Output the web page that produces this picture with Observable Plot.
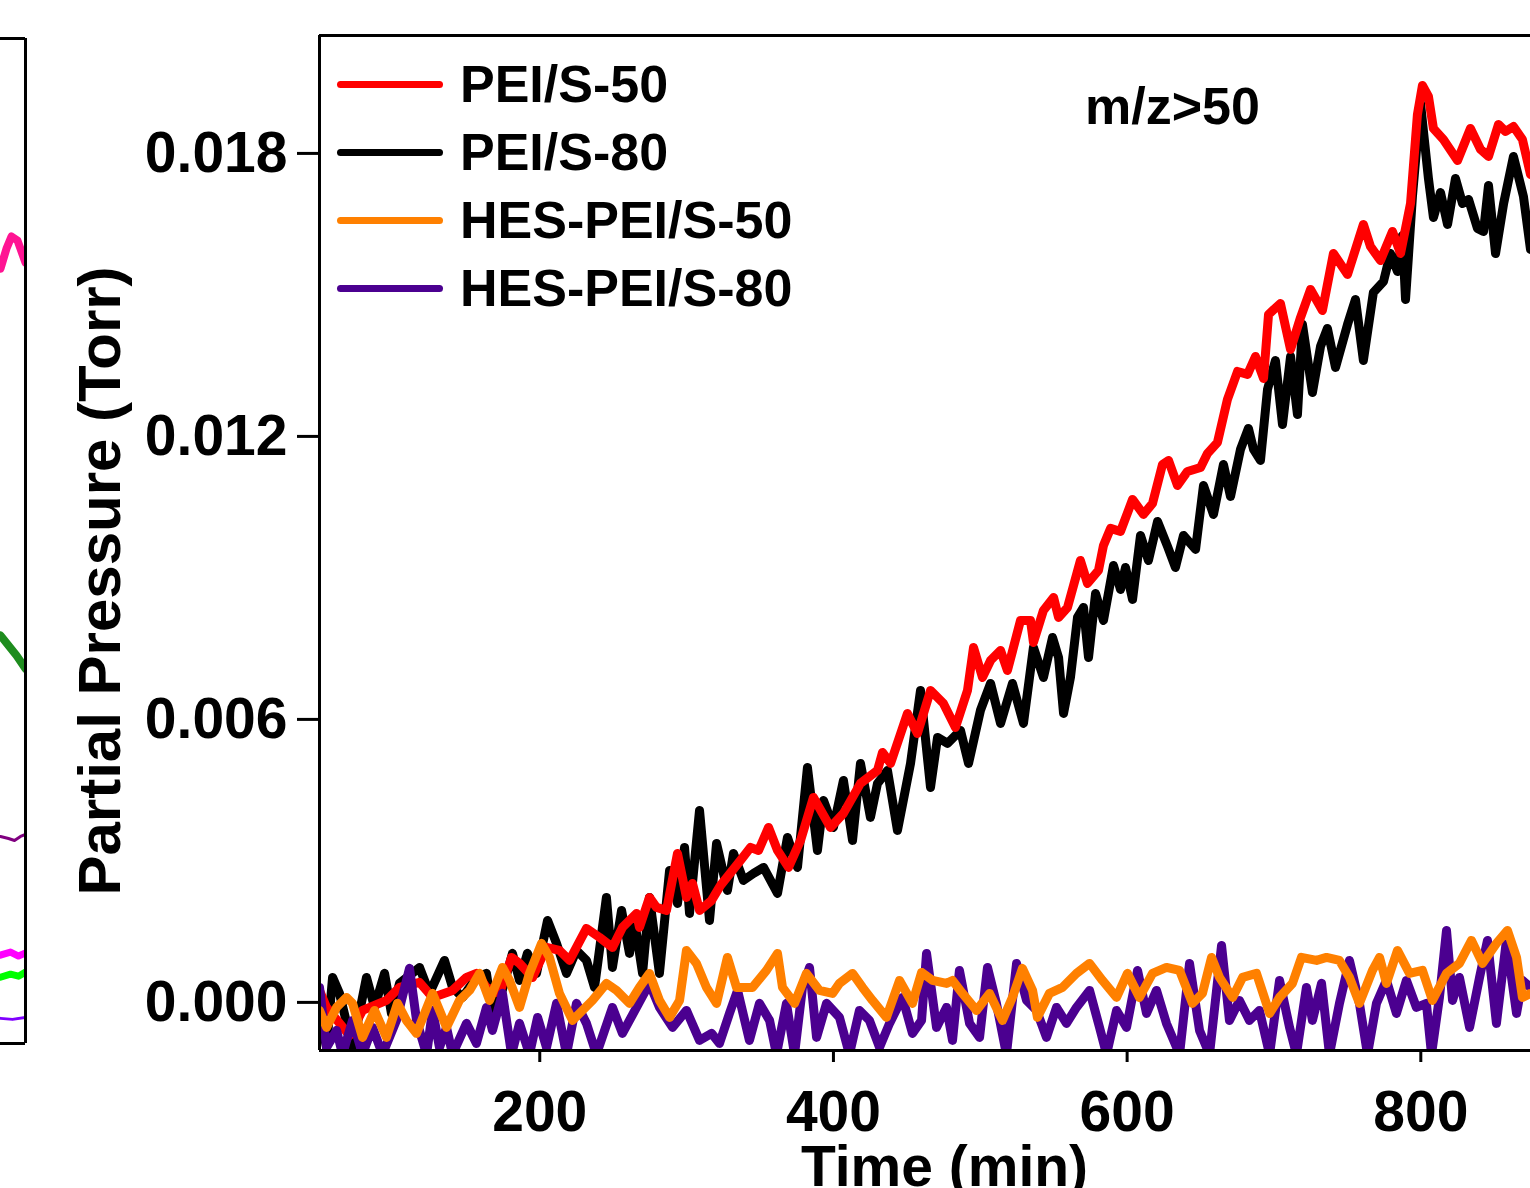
<!DOCTYPE html>
<html>
<head>
<meta charset="utf-8">
<script src="https://cdn.jsdelivr.net/npm/d3@7"></script>
<script src="https://cdn.jsdelivr.net/npm/@observablehq/plot@0.6"></script>
<style>
  html, body { margin: 0; padding: 0; background: #ffffff; overflow: hidden; }
  #wrap { position: relative; width: 1530px; height: 1188px; font-family: "Liberation Sans", Arial, sans-serif; font-weight: bold; color: #000; }
  #wrap svg { position: absolute; left: 0; top: 0; }
  .legend { position: absolute; left: 337px; top: 50px; }
  .row { display: flex; align-items: center; height: 68px; }
  .sw { width: 106px; height: 7px; border-radius: 3.5px; margin-right: 17px; }
  .lab { font-size: 52px; line-height: 1; white-space: nowrap; }
  .note { position: absolute; left: 1085px; top: 80px; font-size: 52px; line-height: 1; white-space: nowrap; }
</style>
</head>
<body>
<div id="wrap"></div>
<script>
// ---------- data (time in min, partial pressure in Torr) ----------
const seriesNames  = ["PEI/S-50", "PEI/S-80", "HES-PEI/S-50", "HES-PEI/S-80"];
const seriesColors = ["#ff0000", "#000000", "#ff8000", "#4b0090"];
const xTicks = [200, 400, 600, 800];
const yTicks = [0, 0.006, 0.012, 0.018];
const xDomain = [50, 874.7];
const yDomain = [-0.00102, 0.0205];
const annotation = "m/z>50";
const xLabel = "Time (min)";
const yLabel = "Partial Pressure (Torr)";

const pei50 = [[50.0,0.000254],[54.8,-0.000106],[70.4,-0.0007],[79.3,-0.00017],[95.6,0.000042],[104.5,0.000318],[118.1,0.000424],[127.0,0.000106],[140.6,0.000254],[150.1,0.00053],[156.9,0.000615],[163.7,0.000318],[172.6,0.000191],[180.8,0.000954],[186.2,0.000827],[195.1,0.00053],[204.6,0.001166],[213.4,0.001102],[220.3,0.00089],[231.8,0.001569],[240.7,0.001378],[249.5,0.001166],[256.3,0.00159],[265.9,0.001887],[267.9,0.00159],[274.7,0.002226],[279.5,0.002014],[286.3,0.00195],[293.8,0.003159],[299.9,0.002226],[304.0,0.002523],[308.8,0.00195],[317.0,0.002162],[323.1,0.00248],[336.7,0.00301],[343.5,0.003286],[349.0,0.003222],[355.8,0.00371],[361.9,0.003222],[369.4,0.002862],[377.6,0.003434],[386.4,0.004346],[398.0,0.00371],[406.8,0.004007],[418.4,0.004643],[430.0,0.004918],[433.4,0.0053],[438.9,0.005067],[450.4,0.006127],[457.2,0.005703],[466.1,0.006614],[474.9,0.006339],[483.1,0.00583],[491.3,0.006614],[495.4,0.007526],[501.5,0.00689],[507.0,0.00725],[513.8,0.007462],[518.5,0.007038],[527.4,0.008098],[534.2,0.008098],[536.2,0.007632],[543.0,0.00831],[549.9,0.008586],[553.3,0.008162],[559.4,0.008374],[568.2,0.00937],[573.0,0.008883],[580.5,0.009158],[583.9,0.009688],[588.7,0.010049],[595.5,0.009985],[603.7,0.010664],[611.1,0.010346],[617.3,0.010579],[624.1,0.011406],[628.2,0.01149],[634.3,0.01096],[641.1,0.011257],[650.0,0.011342],[654.7,0.011639],[661.5,0.011872],[668.3,0.012784],[675.2,0.013377],[682.0,0.013314],[687.4,0.013695],[692.9,0.013229],[696.3,0.014586],[704.4,0.014819],[711.3,0.013844],[718.1,0.014522],[724.9,0.015116],[733.0,0.01467],[740.5,0.015879],[750.1,0.015434],[760.9,0.016494],[765.7,0.016027],[772.5,0.01573],[780.7,0.016345],[786.2,0.015879],[793.0,0.016939],[797.7,0.018826],[801.1,0.01944],[805.2,0.019207],[808.6,0.018529],[815.4,0.018296],[825.0,0.01785],[833.8,0.018529],[840.7,0.018084],[846.1,0.017935],[852.9,0.018614],[857.7,0.018465],[863.1,0.018571],[869.2,0.018296],[874.7,0.017554]];

const pei80 = [[50.0,-0.000233],[54.8,-0.000954],[58.9,0.00053],[63.6,0.000191],[72.5,-0.000954],[82.0,0.00053],[87.5,-0.000106],[94.3,0.000615],[99.0,-0.000233],[104.5,0.000403],[118.1,0.000742],[124.9,0.000191],[135.1,0.00089],[140.6,0.000318],[147.4,0.000106],[156.9,0.00053],[163.7,0.000615],[167.8,-0.000233],[173.9,0.000191],[181.4,0.001039],[186.2,0.000466],[191.6,0.001039],[197.8,0.000615],[205.3,0.001738],[211.4,0.001251],[218.2,0.000615],[225.0,0.001102],[231.8,0.00089],[237.3,0.000318],[245.4,0.002226],[249.5,0.000742],[255.7,0.00195],[261.1,0.001039],[264.5,0.001738],[270.0,0.000615],[274.7,0.002226],[281.5,0.000615],[288.4,0.002798],[293.8,0.002099],[298.6,0.003286],[302.0,0.001887],[308.8,0.00407],[315.6,0.001738],[320.4,0.003371],[327.8,0.002374],[331.9,0.003159],[338.7,0.002586],[345.6,0.002735],[352.4,0.002862],[361.9,0.002311],[368.7,0.003498],[375.5,0.002862],[382.3,0.004982],[389.1,0.003222],[393.2,0.004282],[400.0,0.00371],[406.8,0.004706],[413.0,0.003434],[418.4,0.005067],[425.2,0.003922],[430.0,0.004643],[436.8,0.004918],[443.6,0.003646],[452.5,0.005067],[459.3,0.006614],[466.1,0.004558],[470.9,0.005618],[477.7,0.005491],[486.5,0.005766],[492.0,0.005067],[500.1,0.00619],[507.0,0.006763],[513.8,0.005915],[521.9,0.006763],[529.4,0.005915],[536.2,0.007526],[543.0,0.00689],[549.2,0.007738],[553.3,0.007314],[556.7,0.006127],[561.4,0.00689],[566.2,0.008162],[570.3,0.008374],[573.7,0.007314],[578.5,0.008671],[583.9,0.008098],[590.7,0.009264],[595.5,0.008756],[598.9,0.009222],[603.7,0.008544],[609.1,0.0099],[614.5,0.00937],[620.7,0.010197],[627.5,0.009667],[632.9,0.009222],[638.4,0.0099],[646.6,0.009604],[652.0,0.01096],[658.8,0.010346],[665.6,0.011406],[670.4,0.010727],[677.2,0.011724],[682.6,0.012169],[686.1,0.011724],[690.8,0.01149],[695.6,0.012996],[701.0,0.01361],[705.8,0.012254],[711.3,0.013695],[716.0,0.012466],[719.4,0.014374],[726.2,0.012932],[731.7,0.013907],[736.4,0.014289],[741.9,0.013462],[750.1,0.014374],[755.5,0.014904],[760.9,0.01361],[767.7,0.015052],[774.6,0.015285],[779.3,0.015879],[784.1,0.015497],[787.5,0.01626],[789.6,0.014904],[794.3,0.017087],[799.8,0.019059],[805.2,0.017469],[808.6,0.016642],[813.4,0.017172],[818.2,0.016494],[823.6,0.017469],[828.4,0.016939],[832.5,0.017024],[838.6,0.016409],[842.7,0.016345],[846.1,0.01732],[850.9,0.015879],[856.4,0.016939],[863.1,0.017935],[869.9,0.017087],[874.7,0.015964]];

const hes50 = [[50.0,-0.00017],[54.8,-0.00053],[61.6,-0.000106],[68.4,0.000106],[72.5,-0.000021],[79.3,-0.000742],[87.5,-0.00017],[95.6,-0.000742],[103.1,-0.000021],[109.2,-0.000382],[116.1,-0.000657],[127.0,0.000191],[136.5,-0.00053],[145.3,0.000042],[152.2,0.000254],[159.0,0.000615],[165.8,0.000042],[174.6,0.000742],[179.4,0.000466],[186.2,-0.000106],[193.0,0.000615],[201.2,0.001251],[206.6,0.000954],[213.4,0.000191],[222.3,-0.000382],[229.1,-0.00017],[235.9,0.000042],[245.4,0.000403],[252.3,0.000254],[261.1,-0.000021],[267.9,0.000318],[274.7,0.000615],[281.5,0.000042],[288.4,-0.000318],[295.2,0.000042],[299.9,0.001102],[306.7,0.000827],[313.5,0.000318],[320.4,-0.000021],[327.8,0.000954],[334.0,0.000318],[344.9,0.000318],[354.4,0.000678],[361.9,0.001039],[365.3,0.000318],[373.5,-0.000021],[381.6,0.000615],[390.5,0.000254],[399.4,0.000191],[404.1,0.000403],[413.0,0.000615],[419.8,0.000318],[426.6,0.000042],[436.1,-0.000318],[445.0,0.000466],[453.8,-0.000021],[460.0,0.000636],[467.5,0.000466],[477.0,0.000403],[481.1,0.000466],[487.9,0.000191],[497.4,-0.00017],[506.3,0.000191],[515.1,-0.000382],[521.9,0.000106],[528.7,0.000721],[535.6,0.000254],[538.9,-0.000318],[547.1,0.000191],[556.0,0.000318],[565.5,0.000615],[574.4,0.000827],[583.2,0.000466],[592.8,0.000106],[600.2,0.000615],[608.4,0.000106],[617.3,0.000615],[626.8,0.000742],[635.7,0.000678],[644.5,-0.000021],[651.3,0.000191],[657.5,0.000954],[662.9,0.00053],[671.8,0.000106],[678.6,0.00053],[688.1,0.000615],[697.0,-0.000233],[703.8,0.000106],[712.6,0.000403],[718.7,0.000954],[729.0,0.00089],[735.8,0.000954],[744.6,0.00089],[751.4,0.00053],[758.2,-0.000021],[767.1,0.000678],[771.9,0.000954],[776.6,0.000403],[784.1,0.001102],[792.3,0.000615],[801.1,0.000678],[807.9,0.000042],[817.5,0.000615],[826.3,0.000827],[834.5,0.001314],[842.0,0.000827],[851.5,0.001251],[859.0,0.001526],[865.2,0.000954],[869.2,0.000106],[874.7,0.000191]];

const hes80 = [[50.0,0.000318],[54.8,-0.000954],[61.6,-0.000594],[65.7,-0.0011],[72.5,-0.000382],[79.3,-0.0011],[86.1,-0.00053],[92.9,-0.0011],[102.4,-0.000382],[111.3,0.000721],[116.1,-0.000382],[122.9,-0.0011],[127.0,-0.00017],[131.7,-0.000954],[136.5,-0.00053],[140.6,-0.0011],[150.1,-0.000445],[156.9,-0.000869],[163.7,-0.000106],[167.8,-0.000594],[174.6,0.000191],[180.8,-0.0011],[186.2,-0.000445],[193.0,-0.0011],[198.5,-0.000318],[204.6,-0.000954],[211.4,-0.000021],[218.2,-0.0011],[225.0,-0.000021],[231.8,-0.000445],[238.6,-0.0011],[249.5,-0.000106],[256.3,-0.000657],[265.9,-0.000106],[274.7,0.000403],[281.5,-0.000106],[290.4,-0.00053],[299.9,-0.00017],[308.8,-0.000806],[317.0,-0.000657],[322.4,-0.000869],[329.2,-0.000233],[334.7,0.000254],[342.8,-0.000806],[349.6,-0.000021],[356.5,-0.000382],[361.2,-0.0011],[368.0,-0.000021],[373.5,-0.0011],[378.9,0.000318],[383.7,0.000742],[388.5,-0.000742],[395.3,-0.000021],[404.1,-0.000318],[410.9,-0.0011],[417.7,-0.00017],[424.5,-0.000382],[431.4,-0.000954],[438.2,-0.000445],[447.0,0.000106],[453.8,-0.000657],[460.0,-0.000382],[463.4,0.001039],[470.2,-0.00053],[477.0,-0.000106],[481.1,-0.000806],[485.8,0.000678],[492.7,-0.000445],[499.5,-0.000742],[504.9,0.000742],[511.0,-0.000021],[517.8,-0.0011],[524.7,0.000827],[531.5,0.000042],[538.3,-0.00017],[545.1,-0.000742],[551.9,-0.000106],[558.7,-0.000445],[565.5,-0.000106],[574.4,0.000254],[581.2,-0.00053],[586.0,-0.0011],[592.8,-0.00017],[599.6,-0.00053],[607.1,0.000678],[613.2,-0.000233],[620.0,0.000254],[626.8,-0.000445],[635.7,-0.0011],[642.5,0.000827],[649.3,-0.000594],[656.1,-0.0011],[664.3,0.001208],[669.7,-0.000382],[676.5,0.000042],[683.3,-0.000382],[690.1,-0.00017],[697.0,-0.0011],[703.8,0.000466],[710.6,-0.00053],[715.3,-0.0011],[722.1,0.000318],[726.2,-0.000382],[732.4,0.000403],[737.8,-0.0011],[744.6,-0.000021],[751.4,0.00089],[758.2,-0.000021],[763.7,-0.0011],[769.8,-0.000021],[776.6,0.000466],[783.4,-0.000233],[790.2,0.000466],[797.0,-0.000106],[803.8,-0.000021],[807.3,-0.0011],[812.7,0.000106],[817.5,0.001526],[821.6,0.000042],[826.3,0.00053],[833.2,-0.00053],[840.0,0.00053],[845.4,0.001314],[851.5,-0.000445],[858.3,0.001314],[865.2,-0.000233],[869.2,0.000466],[874.7,0.000318]];

// partial neighbouring panel at the far left (only its right edge is visible)
const fragNames  = ["f1", "f2", "f3", "f4", "f5", "f6"];
const fragColors = ["#ff1493", "#1e8c1e", "#800080", "#ff00ff", "#00ff00", "#8000ff"];
const fragWidths = [8, 8, 3, 7, 7, 3];
const fragPink    = [[0,77.1],[6,79.1],[11,80.3],[17,79.9],[25,77.7]];
const fragGreen   = [[0,40.6],[8,39.6],[16,38.6],[25,37.3]];
const fragPurple  = [[0,20.6],[8,20.4],[14,20.2],[20,20.6],[25,20.8]];
const fragMagenta = [[0,8.8],[10,9.1],[18,8.7],[25,9.0]];
const fragLime    = [[0,6.6],[10,6.9],[18,6.7],[25,7.1]];
const fragViolet  = [[0,2.5],[12,2.4],[25,2.6]];
const fragXDomain = [0, 25];
const fragYDomain = [0, 100];

// ---------- build ----------
const FONT = '"Liberation Sans", Arial, sans-serif';
const toRows = (pairs, name) => pairs.map(([t, p]) => ({time: t, pressure: p, series: name}));
// drawing order: PEI/S-80, PEI/S-50, HES-PEI/S-80, HES-PEI/S-50
const allRows = [
  ...toRows(pei80, seriesNames[1]),
  ...toRows(pei50, seriesNames[0]),
  ...toRows(hes80, seriesNames[3]),
  ...toRows(hes50, seriesNames[2])
];

const main = Plot.plot({
  width: 1530,
  height: 1188,
  marginLeft: 319,
  marginRight: 0,
  marginTop: 35,
  marginBottom: 138,
  style: {fontFamily: FONT, fontWeight: "bold", color: "#000", background: "transparent", overflow: "hidden"},
  x: {domain: xDomain},
  y: {domain: yDomain},
  color: {domain: seriesNames, range: seriesColors},
  marks: [
    Plot.line(allRows, {x: "time", y: "pressure", z: "series", stroke: "series", strokeWidth: 9, strokeLinejoin: "round", strokeLinecap: "round", clip: true}),
    Plot.ruleX([xDomain[0]], {stroke: "#000", strokeWidth: 3}),
    Plot.ruleY([yDomain[0], yDomain[1]], {stroke: "#000", strokeWidth: 3}),
    Plot.axisY({ticks: yTicks, tickFormat: d3.format(".3f"), tickSize: 22, tickPadding: 10, fontSize: 57, strokeWidth: 3, label: null}),
    Plot.axisX({ticks: xTicks, tickFormat: d3.format("d"), tickSize: 12, tickPadding: 28, fontSize: 57, strokeWidth: 3, label: null}),
    Plot.text([xLabel], {text: d => d, frameAnchor: "bottom", textAnchor: "middle", dx: 19.5, dy: 135, lineAnchor: "bottom", fontSize: 57, fontWeight: "bold"}),
    Plot.text([yLabel], {text: d => d, frameAnchor: "left", textAnchor: "middle", lineAnchor: "middle", rotate: -90, dx: -219, dy: 38, fontSize: 60, fontWeight: "bold"})
  ]
});

const fragRows = [
  ...toRows(fragPink, fragNames[0]),
  ...toRows(fragGreen, fragNames[1]),
  ...toRows(fragPurple, fragNames[2]),
  ...toRows(fragMagenta, fragNames[3]),
  ...toRows(fragLime, fragNames[4]),
  ...toRows(fragViolet, fragNames[5])
];
const frag = Plot.plot({
  width: 27,
  height: 1188,
  marginLeft: 0,
  marginRight: 2,
  marginTop: 38,
  marginBottom: 145,
  style: {background: "transparent"},
  x: {domain: fragXDomain, axis: null},
  y: {domain: fragYDomain, axis: null},
  marks: fragNames.map((n, i) =>
    Plot.line(fragRows.filter(r => r.series === n), {x: "time", y: "pressure", stroke: fragColors[i], strokeWidth: fragWidths[i], clip: true})
  ).concat([
    Plot.ruleX([fragXDomain[1]], {stroke: "#000", strokeWidth: 3}),
    Plot.ruleY(fragYDomain, {stroke: "#000", strokeWidth: 3})
  ])
});

const wrap = document.getElementById("wrap");
wrap.appendChild(main);
wrap.appendChild(frag);

// legend (inside the plot area, top-left)
const legend = document.createElement("div");
legend.className = "legend";
seriesNames.forEach((name, i) => {
  const row = document.createElement("div");
  row.className = "row";
  const sw = document.createElement("div");
  sw.className = "sw";
  sw.style.background = seriesColors[i];
  const lab = document.createElement("div");
  lab.className = "lab";
  lab.textContent = name;
  row.appendChild(sw);
  row.appendChild(lab);
  legend.appendChild(row);
});
wrap.appendChild(legend);

const note = document.createElement("div");
note.className = "note";
note.textContent = annotation;
wrap.appendChild(note);
</script>
</body>
</html>
